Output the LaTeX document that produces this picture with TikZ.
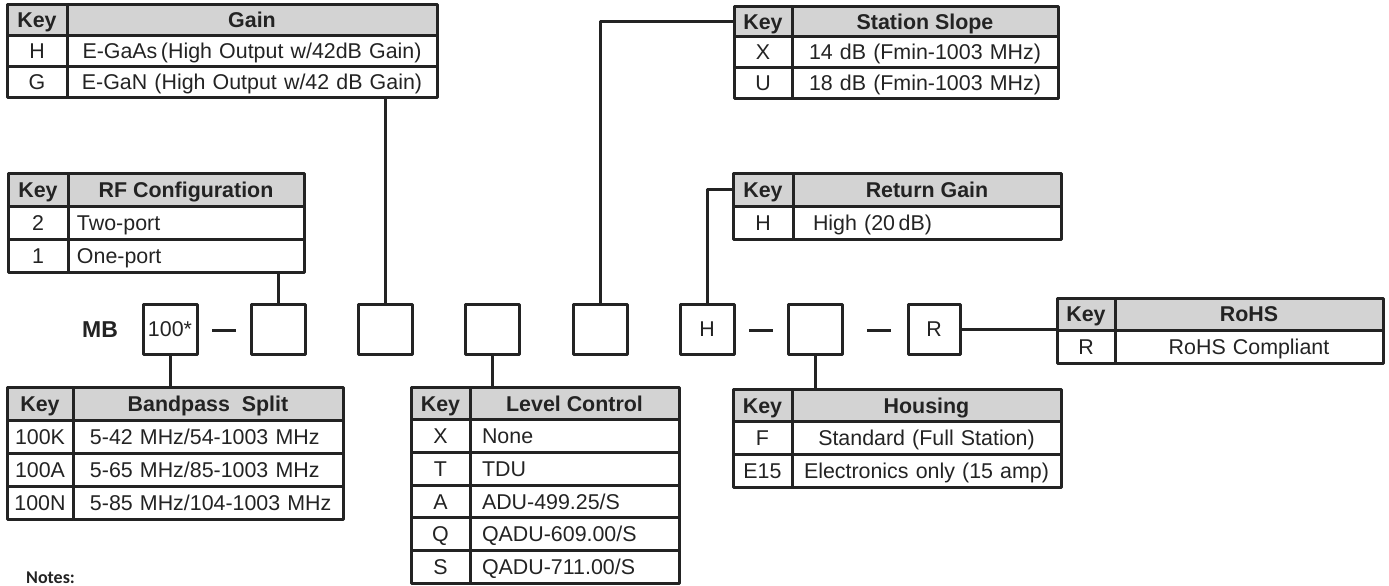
\documentclass[tikz,border=0pt]{standalone}
\usepackage{fontspec}
\setmainfont{Liberation Sans}
\newfontfamily\notefont{Carlito}
\usetikzlibrary{calc,positioning}
\definecolor{ink}{RGB}{35,35,35}
\definecolor{hdrgray}{RGB}{211,211,211}

\begin{document}
\begin{tikzpicture}[x=0.5pt, y=-0.5pt, line width=1.5pt, line join=round, color=ink,
	font=\fontsize{10.7}{12.8}\selectfont,
	cell/.style={draw, outer sep=0pt, inner ysep=0pt, anchor=north west, text height=7.7pt, text depth=0pt, minimum height=#1},
	head/.style={cell=#1, fill=hdrgray, font=\fontsize{10.7}{12.8}\selectfont\bfseries},
	slot/.style={draw, outer sep=0pt, inner sep=0pt, minimum width=27pt, minimum height=25pt, text height=7.7pt, text depth=0pt}]
	\useasboundingbox (0,0) rectangle (1389,585);
	% name, top left, key width, text width, row height, title, indent, rows
	\def\keytab#1#2#3#4#5#6#7#8#9{%
		\ifdim#8>0pt \tikzset{tab align/.style={align=left, execute at begin node={\hspace*{#8}}}}\else\tikzset{tab align/.style={align=center}}\fi
		\node[head=#6, minimum width=#4] (#1-k0) at (#2,#3) {Key};
		\node[head=#6, minimum width=#5] (#1-d0) at (#1-k0.north east) {#7};
		\foreach \ky/\ds [count=\i, remember=\i as \j (initially 0)] in {#9} {
			\node[cell=#6, minimum width=#4] (#1-k\i) at (#1-k\j.south west) {\ky};
			\node[cell=#6, minimum width=#5, text width=#5, inner xsep=0pt, tab align] (#1-d\i) at (#1-k\i.north east) {\ds};
		}}
	
	\keytab{gn}{7}{4}{30pt}{185pt}{15.65pt}{Gain}{0pt}{H/{E-GaAs\,(High Output w/42dB Gain)},G/{E-GaN (High Output w/42 dB Gain)}}
	\keytab{ss}{734}{6}{29pt}{133pt}{15.35pt}{Station Slope}{0pt}{X/{14 dB (Fmin-1003 MHz)},U/{18 dB (Fmin-1003 MHz)}}
	\keytab{rf}{8}{173}{30pt}{118pt}{16.5pt}{RF Configuration}{4.5pt}{2/{Two-port},1/{One-port}}
	\keytab{rg}{733}{173}{30pt}{134pt}{16.5pt}{Return Gain}{10pt}{H/{High (20\,dB)}}
	\keytab{bp}{7}{387}{33pt}{135pt}{16.5pt}{Bandpass\ \ Split}{8.5pt}{100K/{5-42 MHz/54-1003 MHz},100A/{5-65 MHz/85-1003 MHz},100N/{5-85 MHz/104-1003 MHz}}
	\keytab{lc}{411}{387}{29.5pt}{104.5pt}{16.35pt}{Level Control}{6pt}{X/{None},T/{TDU},A/{ADU-499.25/S},Q/{QADU-609.00/S},S/{QADU-711.00/S}}
	\keytab{hs}{733}{389}{29.5pt}{134.5pt}{16.35pt}{Housing}{0pt}{F/{Standard (Full Station)},E15/{Electronics only (15 amp)}}
	\keytab{rh}{1057}{298}{29pt}{134pt}{16.25pt}{RoHS}{0pt}{R/{RoHS Compliant}}
	
	\node[font=\fontsize{11.5}{13}\selectfont\bfseries] (mb) at (100,330) {MB};
	\node[slot] (b1) at (170,329) {100*};
	\node[slot] (b2) at (278,329) {};
	\node[slot] (b3) at (385,329) {};
	\node[slot] (b4) at (492,329) {};
	\node[slot] (b5) at (600,329) {};
	\node[slot] (b6) at (707,329) {H};
	\node[slot] (b7) at (815,329) {};
	\node[slot, minimum width=26pt] (b8) at (934,329) {R};
	
	\draw ($(b1.east)!.5!(b2.west)+(-12,1)$) -- +(24,0);
	\draw ($(b6.east)!.5!(b7.west)+(-12,1)$) -- +(24,0);
	\draw ($(b7.east)!.5!(b8.west)+(-8,1)$) -- +(24,0);
	
	\draw (b1.south) -- (b1 |- bp-d0.north);
	\draw (b2.north) -- (b2 |- rf-d2.south);
	\draw (b3.north) -- (b3 |- gn-d2.south);
	\draw (b4.south) -- (b4 |- lc-d0.north);
	\draw (b5.north) |- (ss-k0.west);
	\draw (b6.north) |- (rg-k0.west);
	\draw (b7.south) -- (b7 |- hs-d0.north);
	\draw (b8.east) -- (b8.east -| rh-k0.west);
	
	\node[anchor=base west, font=\notefont\bfseries\fontsize{9}{10}\selectfont] (notes) at (18,583) {Notes:};
\end{tikzpicture}
\end{document}
